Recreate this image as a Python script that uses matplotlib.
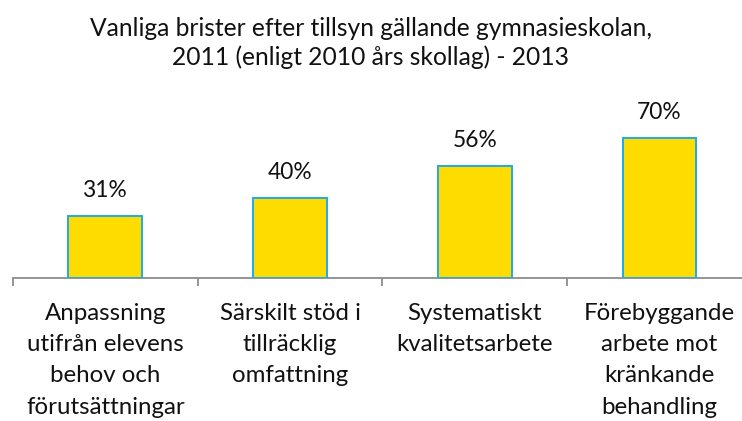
import matplotlib
matplotlib.use("Agg")
import matplotlib.pyplot as plt

categories = ["Anpassning\nutifrån elevens\nbehov och\nförutsättningar",
              "Särskilt stöd i\ntillräcklig\nomfattning",
              "Systematiskt\nkvalitetsarbete",
              "Förebyggande\narbete mot\nkränkande\nbehandling"]
values = [31, 40, 56, 70]
title_lines = ["Vanliga brister efter tillsyn gällande gymnasieskolan,",
               "2011 (enligt 2010 års skollag) - 2013"]

plt.rcParams['font.family'] = ['Lato', 'DejaVu Sans']

fig = plt.figure(figsize=(7.42, 4.21), dpi=100)
W, H = 742, 421
left, right = 13, 751.8
base, top = 278, 118
ax = fig.add_axes([left / W, 1 - base / H, (right - left) / W, (base - top) / H])

x = list(range(len(values)))
ax.bar(x, values, width=0.40, color="#FFDC00", edgecolor="#1EAAE6", linewidth=1.4, zorder=3)
ax.set_xlim(-0.5, len(values) - 0.5)
ax.set_ylim(0, 80)

for xi, v in zip(x, values):
    ax.annotate(f"{v}%", (xi, v), xytext=(0, 13.5), textcoords="offset points",
                ha="center", va="baseline", fontsize=16.4, color="#111111")

for s in ["top", "right", "left"]:
    ax.spines[s].set_visible(False)
ax.spines["bottom"].set_color("#8C8C8C")
ax.spines["bottom"].set_linewidth(1.3)
ax.set_yticks([])
ax.set_xticks([i - 0.5 for i in range(len(values) + 1)], minor=False)
ax.set_xticklabels([])
ax.tick_params(axis="x", which="major", length=6, color="#8C8C8C", width=1.3, direction="out")
ax.set_xticks(x, minor=True)
ax.set_xticklabels(categories, minor=True, fontsize=17.3, color="#111111", linespacing=1.6)
ax.tick_params(axis="x", which="minor", length=0, pad=18)

for y, line in zip([36, 65], title_lines):
    fig.text(0.5, 1 - y / H, line, ha="center", va="baseline", fontsize=17.7,
             color="#111111")

fig.savefig("out.png", dpi=100)
